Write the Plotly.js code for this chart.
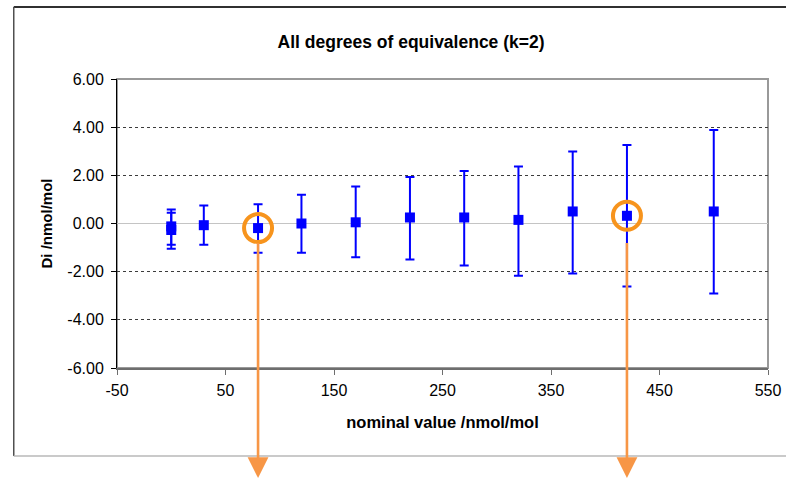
<!DOCTYPE html>
<html>
<head>
<meta charset="utf-8">
<script src="https://cdn.plot.ly/plotly-3.0.1.min.js"></script>
<style>
  html, body { margin: 0; padding: 0; background: #ffffff; }
  #chart { width: 786px; height: 479px; }
</style>
</head>
<body>
<div id="chart"></div>
<script>
// nominal value /nmol/mol
const nominal = [0, 0, 30, 80, 120, 170, 220, 270, 320, 370, 420, 500];
// degree of equivalence Di /nmol/mol
const di = [-0.27, -0.12, -0.07, -0.19, 0.00, 0.05, 0.25, 0.25, 0.15, 0.50, 0.32, 0.50];
// upper and lower ends of the expanded uncertainty bars (k=2)
const upperEnd = [0.58, 0.45, 0.75, 0.80, 1.19, 1.54, 1.93, 2.18, 2.37, 2.99, 3.26, 3.88];
const lowerEnd = [-1.05, -0.88, -0.88, -1.21, -1.21, -1.40, -1.49, -1.74, -2.17, -2.08, -2.62, -2.91];
// highlighted (circled) results
const highlightX = [80, 420];
const highlightY = [-0.19, 0.32];
// tick labels (hyphen-minus, as in the original)
const xTickVals = [-50, 50, 150, 250, 350, 450, 550];
const xTickLabels = ['-50', '50', '150', '250', '350', '450', '550'];
const yTickVals = [-6, -4, -2, 0, 2, 4, 6];
const yTickLabels = ['-6.00', '-4.00', '-2.00', '0.00', '2.00', '4.00', '6.00'];

const errPlus = di.map((v, i) => upperEnd[i] - v);
const errMinus = di.map((v, i) => v - lowerEnd[i]);

const FONT = 'Liberation Sans, Arial, sans-serif';

const trace = {
  type: 'scatter',
  mode: 'markers',
  x: nominal,
  y: di,
  marker: { symbol: 'square', size: 10, color: '#0000FF' },
  error_y: {
    type: 'data', symmetric: false,
    array: errPlus, arrayminus: errMinus,
    color: '#0000FF', thickness: 2, width: 4.5
  },
  showlegend: false,
  hoverinfo: 'x+y'
};

const FL = -0.1586, FT = 1.249, FB = -0.3045, FR = 1.06;
const shapes = [
  // outer chart frame: top, left, bottom
  { type: 'line', xref: 'paper', yref: 'paper', x0: FL, x1: FR, y0: FT, y1: FT,
    line: { color: '#303030', width: 2 }, layer: 'below' },
  { type: 'line', xref: 'paper', yref: 'paper', x0: FL, x1: FL, y0: FB, y1: FT,
    line: { color: '#505050', width: 1.5 }, layer: 'below' },
  { type: 'line', xref: 'paper', yref: 'paper', x0: FL, x1: FR, y0: FB, y1: FB,
    line: { color: '#b8b8b8', width: 1.5 }, layer: 'below' },
  // plot-area border (top / right)
  { type: 'rect', xref: 'paper', yref: 'paper', x0: 0, x1: 1, y0: 0, y1: 1,
    line: { color: '#999999', width: 2 }, fillcolor: 'rgba(0,0,0,0)', layer: 'below' }
];
highlightX.forEach((hx, i) => {
  shapes.push({
    type: 'circle', xref: 'x', yref: 'y',
    xsizemode: 'pixel', ysizemode: 'pixel',
    xanchor: hx, yanchor: highlightY[i],
    x0: -14, x1: 14, y0: -14, y1: 14,
    line: { color: '#F7941D', width: 4 }, fillcolor: 'rgba(0,0,0,0)', layer: 'above'
  });
});

const annotations = highlightX.map(hx => ({
  x: hx, xref: 'x', y: -0.40, yref: 'paper',
  ax: 0, ay: -242, axref: 'pixel', ayref: 'pixel',
  text: '', showarrow: true,
  arrowhead: 2, arrowsize: 1.6, arrowwidth: 2.6, arrowcolor: '#F79646', standoff: 0
}));

const layout = {
  width: 786, height: 479,
  margin: { l: 117, r: 18, t: 79, b: 111 },
  paper_bgcolor: '#ffffff', plot_bgcolor: '#ffffff',
  font: { family: FONT, size: 16, color: '#000000' },
  title: {
    text: '<b>All degrees of equivalence (k=2)</b>',
    font: { family: FONT, size: 17.5, color: '#000000' },
    xref: 'container', x: 0.523, xanchor: 'center',
    yref: 'container', y: 0.912, yanchor: 'middle'
  },
  xaxis: {
    range: [-50, 550], tickmode: 'array', tickvals: xTickVals, ticktext: xTickLabels,
    showgrid: false, zeroline: false,
    showline: true, linecolor: '#6e6e6e', linewidth: 2,
    ticks: 'outside', ticklen: 5, tickcolor: '#6e6e6e', tickwidth: 1,
    ticklabelstandoff: 2,
    tickfont: { family: FONT, size: 16 },
    title: { text: '<b>nominal value /nmol/mol</b>', font: { family: FONT, size: 16.5 }, standoff: 18 }
  },
  yaxis: {
    range: [-6, 6], tickmode: 'array', tickvals: yTickVals, ticktext: yTickLabels,
    showgrid: true, gridcolor: '#3c3c3c', griddash: 'dot', gridwidth: 1,
    zeroline: true, zerolinecolor: '#c4c4c4', zerolinewidth: 1,
    showline: true, linecolor: '#000000', linewidth: 1,
    ticks: 'outside', ticklen: 5, tickcolor: '#000000', tickwidth: 1,
    ticklabelstandoff: 4,
    tickfont: { family: FONT, size: 16 },
    title: { text: '<b>Di /nmol/mol</b>', font: { family: FONT, size: 15 }, standoff: 11 }
  },
  shapes: shapes,
  annotations: annotations
};

Plotly.newPlot('chart', [trace], layout, { displayModeBar: false, staticPlot: true });
</script>
</body>
</html>
